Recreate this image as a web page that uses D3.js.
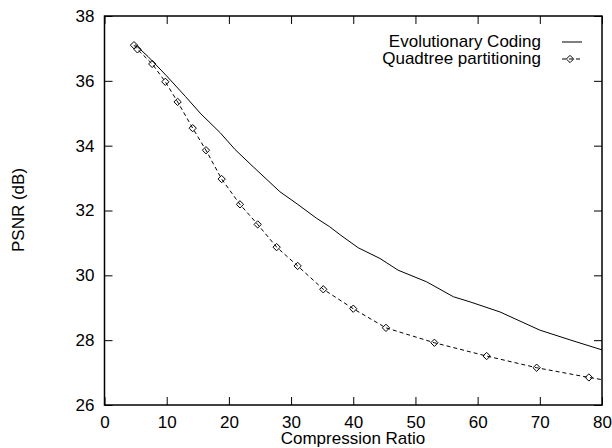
<!DOCTYPE html>
<html>
<head>
<meta charset="utf-8">
<script src="https://cdn.jsdelivr.net/npm/d3@7"></script>
<style>
  body { margin: 0; background: #fff; }
  svg text { font-family: "Liberation Sans", Arial, Helvetica, sans-serif; font-size: 17px; fill: #000; }
</style>
</head>
<body>
<div id="chart"></div>
<script>
// Evolutionary Coding (solid line)
const evoRatio = [4.9, 7, 10, 13, 15.5, 18.6, 21, 23.9, 28.2, 31, 34.1, 36.2, 37.9, 40.8, 44.3, 47.2, 51.8, 56.1, 58.8, 63.6, 70, 75, 80];
const evoPsnr  = [37.12, 36.75, 36.15, 35.52, 34.98, 34.40, 33.88, 33.35, 32.58, 32.2, 31.76, 31.5, 31.25, 30.85, 30.52, 30.16, 29.8, 29.34, 29.18, 28.87, 28.31, 28.0, 27.7];

// Quadtree partitioning (dashed line with diamonds)
const quadRatio = [4.74, 5.31, 7.68, 9.78, 11.76, 14.18, 16.32, 18.84, 21.78, 24.63, 27.68, 31.06, 35.18, 40.0, 45.26, 53.05, 61.45, 69.49, 77.89, 85];
const quadPsnr  = [37.1, 36.97, 36.52, 35.97, 35.35, 34.54, 33.86, 32.97, 32.19, 31.57, 30.87, 30.29, 29.57, 28.97, 28.38, 27.92, 27.51, 27.15, 26.85, 26.62];

const xTicks = [0, 10, 20, 30, 40, 50, 60, 70, 80];
const yTicks = [26, 28, 30, 32, 34, 36, 38];
const seriesNames = ["Evolutionary Coding", "Quadtree partitioning"];

const width = 612, height = 448;
const plotLeft = 104.5, plotRight = 602, plotTop = 16, plotBottom = 405;

const svg = d3.select("#chart").append("svg")
    .attr("width", width)
    .attr("height", height);

const x = d3.scaleLinear().domain([0, 80]).range([plotLeft, plotRight]);
const y = d3.scaleLinear().domain([26, 38]).range([plotBottom, plotTop]);

// clip to the plot box
svg.append("clipPath").attr("id", "plot-clip")
  .append("rect")
    .attr("x", plotLeft).attr("y", plotTop)
    .attr("width", plotRight - plotLeft).attr("height", plotBottom - plotTop);

// axes, ticks pointing inward
svg.append("g")
    .attr("transform", `translate(0,${plotBottom})`)
    .call(d3.axisBottom(x).tickValues(xTicks).tickSizeInner(-8).tickSizeOuter(0).tickPadding(11))
    .call(g => g.select(".domain").remove());

svg.append("g")
    .attr("transform", `translate(${plotLeft},0)`)
    .call(d3.axisLeft(y).tickValues(yTicks).tickSizeInner(-8).tickSizeOuter(0).tickPadding(10))
    .call(g => g.select(".domain").remove());

svg.append("g")
    .attr("transform", `translate(0,${plotTop})`)
    .call(d3.axisTop(x).tickValues(xTicks).tickSizeInner(-8).tickSizeOuter(0).tickFormat(""))
    .call(g => g.select(".domain").remove());

svg.append("g")
    .attr("transform", `translate(${plotRight},0)`)
    .call(d3.axisRight(y).tickValues(yTicks).tickSizeInner(-8).tickSizeOuter(0).tickFormat(""))
    .call(g => g.select(".domain").remove());

svg.selectAll(".tick text").attr("font-size", null).attr("font-family", null);
svg.selectAll(".tick line").attr("stroke", "#000").attr("stroke-width", 1);

// frame
svg.append("rect")
    .attr("x", plotLeft).attr("y", plotTop)
    .attr("width", plotRight - plotLeft).attr("height", plotBottom - plotTop)
    .attr("fill", "none")
    .attr("stroke", "#000")
    .attr("stroke-width", 1.5);

// axis titles
svg.append("text")
    .attr("x", 353)
    .attr("y", 444)
    .attr("text-anchor", "middle")
    .text("Compression Ratio");

svg.append("text")
    .attr("transform", "translate(24,210) rotate(-90)")
    .attr("text-anchor", "middle")
    .text("PSNR (dB)");

const line = d3.line().x(d => x(d[0])).y(d => y(d[1]));
const evoData = d3.zip(evoRatio, evoPsnr);
const quadData = d3.zip(quadRatio, quadPsnr);

const plot = svg.append("g").attr("clip-path", "url(#plot-clip)");

plot.append("path")
    .datum(evoData)
    .attr("d", line)
    .attr("fill", "none")
    .attr("stroke", "#000")
    .attr("stroke-width", 1);

plot.append("path")
    .datum(quadData)
    .attr("d", line)
    .attr("fill", "none")
    .attr("stroke", "#000")
    .attr("stroke-width", 1)
    .attr("stroke-dasharray", "4,3");

const diamond = d3.symbol().type(d3.symbolDiamond2).size(34);

plot.selectAll(".marker")
  .data(quadData)
  .join("path")
    .attr("class", "marker")
    .attr("transform", d => `translate(${x(d[0])},${y(d[1])})`)
    .attr("d", diamond)
    .attr("fill", "none")
    .attr("stroke", "#000")
    .attr("stroke-width", 1);

// legend
const legend = svg.append("g");
const legendY = [42, 59];

legend.selectAll("text")
  .data(seriesNames)
  .join("text")
    .attr("x", 541)
    .attr("y", (d, i) => legendY[i])
    .attr("dy", "0.32em")
    .attr("text-anchor", "end")
    .text(d => d);

legend.append("line")
    .attr("x1", 562).attr("x2", 582)
    .attr("y1", legendY[0]).attr("y2", legendY[0])
    .attr("stroke", "#000").attr("stroke-width", 1);

legend.append("line")
    .attr("x1", 562).attr("x2", 583)
    .attr("y1", legendY[1]).attr("y2", legendY[1])
    .attr("stroke", "#000").attr("stroke-width", 1)
    .attr("stroke-dasharray", "4,3");

legend.append("path")
    .attr("transform", `translate(570,${legendY[1]})`)
    .attr("d", diamond)
    .attr("fill", "none")
    .attr("stroke", "#000")
    .attr("stroke-width", 1);
</script>
</body>
</html>
